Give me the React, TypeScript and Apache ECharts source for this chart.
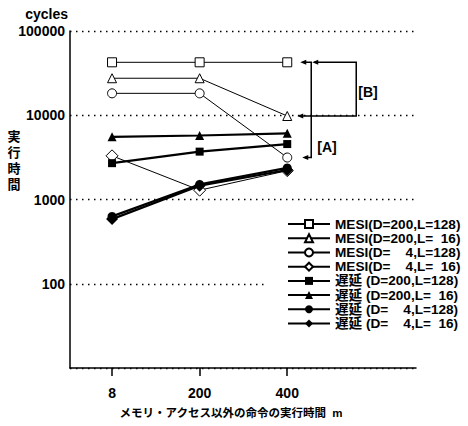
import React, { useEffect, useRef } from "react";
import * as echarts from "echarts";

const xLabels = ["8", "200", "400"];
const xIndex = [0, 1, 2];
const mesiD200L128 = [42500, 42500, 42500];
const mesiD200L16 = [27500, 27500, 9800];
const mesiD4L128 = [18200, 18200, 3150];
const mesiD4L16 = [3300, 1290, 2200];
const delayD200L128 = [2700, 3700, 4550];
const delayD200L16 = [5550, 5750, 6100];
const delayD4L128 = [630, 1510, 2370];
const delayD4L16 = [585, 1460, 2240];
const yTicks = [10, 100, 1000, 10000, 100000];

const NB = "\u00a0";
const seriesNames = [
  "MESI(D=200,L=128)",
  `MESI(D=200,L=${NB}${NB}16)`,
  `MESI(D=${NB}${NB}${NB}${NB}4,L=128)`,
  `MESI(D=${NB}${NB}${NB}${NB}4,L=${NB}${NB}16)`,
  "遅延 (D=200,L=128)",
  `遅延 (D=200,L=${NB}${NB}16)`,
  `遅延 (D=${NB}${NB}${NB}${NB}4,L=128)`,
  `遅延 (D=${NB}${NB}${NB}${NB}4,L=${NB}${NB}16)`,
];

const FONT = '"Liberation Sans", Arial, "Noto Sans CJK JP", sans-serif';

export default function App() {
  const ref = useRef<HTMLDivElement>(null);
  useEffect(() => {
    if (!ref.current) return;
    const chart = echarts.init(ref.current, undefined, { renderer: "svg" });
    const mk = (
      name: string,
      vals: number[],
      symbol: string,
      size: number,
      filled: boolean
    ) => ({
      name,
      type: "line",
      data: vals.map((v, i) => [xIndex[i], v]),
      symbol,
      symbolSize: size,
      z: filled ? 4 : 3,
      lineStyle: { color: "#000", width: filled ? 2.2 : 1 },
      itemStyle: {
        color: filled ? "#000" : "#fff",
        borderColor: "#000",
        borderWidth: filled ? 0 : 1,
      },
    });
    const series: any[] = [
      mk(seriesNames[0], mesiD200L128, "rect", 9, false),
      mk(seriesNames[1], mesiD200L16, "triangle", 9, false),
      mk(seriesNames[2], mesiD4L128, "circle", 9, false),
      mk(seriesNames[3], mesiD4L16, "diamond", 12, false),
      mk(seriesNames[4], delayD200L128, "rect", 8, true),
      mk(seriesNames[5], delayD200L16, "triangle", 9, true),
      mk(seriesNames[6], delayD4L128, "circle", 9, true),
      mk(seriesNames[7], delayD4L16, "diamond", 12, true),
    ];
    chart.setOption({
      animation: false,
      backgroundColor: "#fff",
      textStyle: { fontFamily: FONT, color: "#000" },
      grid: { left: 70, right: 52, top: 31, bottom: 58 },
      legend: {
        orient: "vertical",
        left: 267,
        top: 216,
        padding: [1, 0, 1, 20],
        backgroundColor: "#fff",
        itemWidth: 42,
        itemHeight: 10,
        itemGap: 0,
        textStyle: {
          fontFamily: FONT,
          fontSize: 13.6,
          fontWeight: "bold",
          color: "#000",
          lineHeight: 14.2,
        },
        data: seriesNames,
      },
      xAxis: {
        type: "value",
        min: -0.48,
        max: 3.47,
        splitLine: { show: false },
        axisLine: { show: true, onZero: false, lineStyle: { color: "#000", width: 1.5 } },
        axisTick: {
          show: true,
          customValues: xIndex,
          length: 8,
          inside: false,
          lineStyle: { color: "#000", width: 1.5 },
        },
        axisLabel: {
          customValues: xIndex,
          formatter: (v: number) => xLabels[Math.round(v)] ?? "",
          margin: 18,
          fontSize: 14,
          fontWeight: "bold",
          color: "#000",
          fontFamily: FONT,
        },
      },
      yAxis: {
        type: "log",
        logBase: 10,
        min: yTicks[0],
        max: yTicks[yTicks.length - 1],
        axisLine: { show: true, onZero: false, lineStyle: { color: "#000", width: 1.5 } },
        axisTick: { show: false },
        axisLabel: {
          formatter: (v: number) => (v === 10 ? "" : String(v)),
          margin: 5,
          fontSize: 14,
          fontWeight: "bold",
          color: "#000",
          fontFamily: FONT,
        },
        splitLine: {
          show: true,
          lineStyle: { color: "#000", type: [1.5, 4.5], width: 1.3 },
        },
      },
      series,
    });

    const p = (x: number, y: number) =>
      chart.convertToPixel({ gridIndex: 0 }, [x, y]) as number[];
    const sq = p(2, mesiD200L128[2]);
    const tr = p(2, mesiD200L16[2]);
    const ci = p(2, mesiD4L128[2]);
    const x3 = sq[0];
    const ax = x3 + 24;
    const bx = x3 + 69;
    const ls = { stroke: "#000", lineWidth: 1.5 };
    const arrow = (tipX: number, y: number) => ({
      type: "polygon",
      shape: { points: [[tipX, y], [tipX + 6, y - 2.5], [tipX + 6, y + 2.5]] },
      style: { fill: "#000" },
    });
    chart.setOption({
      graphic: [
        { type: "polyline", shape: { points: [[x3 + 16, sq[1]], [ax, sq[1]], [ax, ci[1]], [x3 + 18, ci[1]]] }, style: { ...ls, fill: null } },
        arrow(x3 + 13, sq[1]),
        arrow(x3 + 15, ci[1]),
        { type: "polyline", shape: { points: [[ax + 3, sq[1]], [bx, sq[1]], [bx, tr[1]], [x3 + 14, tr[1]]] }, style: { ...ls, fill: null } },
        arrow(ax + 1, sq[1]),
        arrow(x3 + 10, tr[1]),
        { type: "text", x: ax + 6, y: (sq[1] + ci[1]) / 2 + 37, style: { text: "[A]", font: `bold 14px ${FONT}`, fill: "#000", textVerticalAlign: "middle" } },
        { type: "text", x: bx + 2, y: (sq[1] + tr[1]) / 2 + 3, style: { text: "[B]", font: `bold 14px ${FONT}`, fill: "#000", textVerticalAlign: "middle" } },
        { type: "text", x: 68, y: 14, style: { text: "cycles", font: `bold 14px ${FONT}`, fill: "#000", textAlign: "right", textVerticalAlign: "middle" } },
        { type: "text", x: 14, y: 160, style: { text: "実\n行\n時\n間", font: `bold 13px ${FONT}`, lineHeight: 16, fill: "#000", textAlign: "center", textVerticalAlign: "middle" } },
        { type: "text", x: 231, y: 413, style: { text: `メモリ・アクセス以外の命令の実行時間${NB}${NB}m`, font: `bold 11.5px ${FONT}`, fill: "#000", textAlign: "center", textVerticalAlign: "middle" } },
      ],
    });
    return () => chart.dispose();
  }, []);
  return <div ref={ref} style={{ width: 468, height: 426, position: "absolute", left: 0, top: 0 }} />;
}
